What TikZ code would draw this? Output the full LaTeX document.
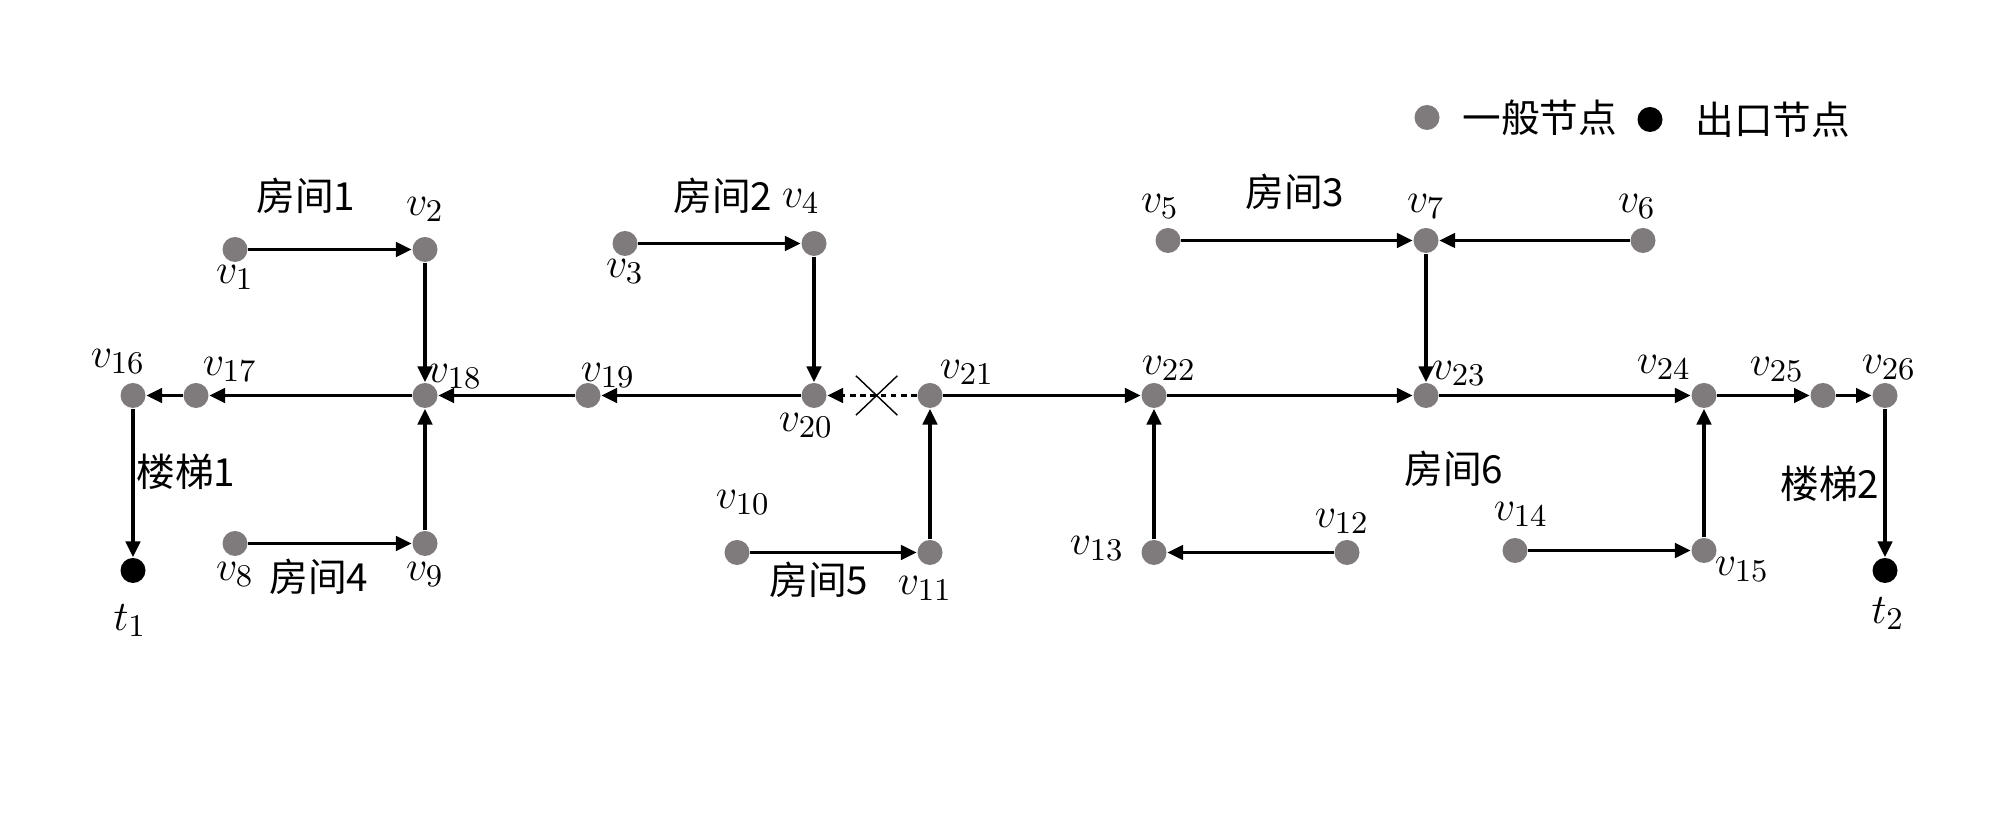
\documentclass[tikz,border=0pt]{standalone}
\usepackage{fontspec}
\usepackage{tikz}
\usetikzlibrary{positioning, arrows.meta, calc, shapes.misc}
\usepackage{xcolor}
\newfontfamily\cjk{Noto Sans CJK SC}
\definecolor{ptgray}{HTML}{7F7B7C}
\definecolor{ptblack}{HTML}{000000}

\begin{document}
\begin{tikzpicture}[font=\fontsize{11}{13}\selectfont,
    every label/.style={font=\fontsize{12.5}{15}\selectfont},
    pt/.style={circle, fill=ptgray, minimum size=0.25cm, inner sep=0pt},
    exit/.style={circle, fill=ptblack, minimum size=0.25cm, inner sep=0pt},
    link/.style={line width=1.1pt, -{Triangle[length=4.5pt, width=4pt]}},
    cut/.style={link, dash pattern=on 1.6pt off 1.3pt},
    room/.style={font=\cjk\fontsize{11}{13}\selectfont}]
    \useasboundingbox (0,0) rectangle (20,8.265);
    % upper rooms
    \node[pt, label={[shift={(0,-0.28)}]center:$v_1$}] (v1) at (2.35,5.77) {};
    \node[pt, label={[shift={(0,0.4)}]center:$v_2$}]   (v2) at (4.25,5.77) {};
    \node[pt, label={[shift={(0,-0.28)}]center:$v_3$}] (v3) at (6.25,5.83) {};
    \node[pt, label={[shift={(-0.13,0.42)}]center:$v_4$}] (v4) at (8.14,5.83) {};
    \node[pt, label={[shift={(-0.08,0.34)}]center:$v_5$}] (v5) at (11.68,5.86) {};
    \node[pt, label={[shift={(0,0.34)}]center:$v_7$}]  (v7) at (14.26,5.86) {};
    \node[pt, label={[shift={(-0.06,0.34)}]center:$v_6$}] (v6) at (16.43,5.86) {};
    % corridor
    \node[pt, label={[shift={(-0.15,0.34)}]center:$v_{16}$}] (v16) at (1.33,4.31) {};
    \node[pt, label={[shift={(0.34,0.26)}]center:$v_{17}$}]  (v17) at (1.96,4.31) {};
    \node[pt, label={[shift={(0.3,0.19)}]center:$v_{18}$}]   (v18) at (4.25,4.31) {};
    \node[pt, label={[shift={(0.2,0.2)}]center:$v_{19}$}]    (v19) at (5.88,4.31) {};
    \node[pt, label={[shift={(-0.08,-0.3)}]center:$v_{20}$}] (v20) at (8.14,4.31) {};
    \node[pt, label={[shift={(0.37,0.23)}]center:$v_{21}$}]  (v21) at (9.30,4.31) {};
    \node[pt, label={[shift={(0.15,0.27)}]center:$v_{22}$}]  (v22) at (11.54,4.31) {};
    \node[pt, label={[shift={(0.33,0.22)}]center:$v_{23}$}]  (v23) at (14.26,4.31) {};
    \node[pt, label={[shift={(-0.4,0.28)}]center:$v_{24}$}]  (v24) at (17.04,4.31) {};
    \node[pt, label={[shift={(-0.46,0.26)}]center:$v_{25}$}] (v25) at (18.23,4.31) {};
    \node[pt, label={[shift={(0.04,0.28)}]center:$v_{26}$}]  (v26) at (18.85,4.31) {};
    \node[exit, label={[shift={(-0.03,-0.5)}]center:$t_1$}]  (t1) at (1.33,2.56) {};
    \node[exit, label={[shift={(0.03,-0.43)}]center:$t_2$}]  (t2) at (18.85,2.56) {};
    % lower rooms
    \node[pt, label={[shift={(0,-0.31)}]center:$v_8$}]  (v8) at (2.35,2.83) {};
    \node[pt, label={[shift={(0,-0.31)}]center:$v_9$}]  (v9) at (4.25,2.83) {};
    \node[pt, label={[shift={(0.06,0.5)}]center:$v_{10}$}]   (v10) at (7.37,2.74) {};
    \node[pt, label={[shift={(-0.05,-0.36)}]center:$v_{11}$}] (v11) at (9.30,2.74) {};
    \node[pt, label={[shift={(-0.57,0.04)}]center:$v_{13}$}] (v13) at (11.54,2.74) {};
    \node[pt, label={[shift={(-0.05,0.31)}]center:$v_{12}$}] (v12) at (13.47,2.74) {};
    \node[pt, label={[shift={(0.06,0.36)}]center:$v_{14}$}]  (v14) at (15.15,2.76) {};
    \node[pt, label={[shift={(0.38,-0.19)}]center:$v_{15}$}] (v15) at (17.04,2.76) {};

    \draw[link] (v1) -- (v2);
    \draw[link] (v2) -- (v18);
    \draw[link] (v3) -- (v4);
    \draw[link] (v4) -- (v20);
    \draw[link] (v5) -- (v7);
    \draw[link] (v6) -- (v7);
    \draw[link] (v7) -- (v23);
    \draw[link] (v18) -- (v17);
    \draw[link] (v17) -- (v16);
    \draw[link] (v19) -- (v18);
    \draw[link] (v20) -- (v19);
    \draw[cut]  (v21) -- (v20);
    \draw[link] (v21) -- (v22);
    \draw[link] (v22) -- (v23);
    \draw[link] (v23) -- (v24);
    \draw[link] (v24) -- (v25);
    \draw[link] (v25) -- (v26);
    \draw[link] (v16) -- (t1);
    \draw[link] (v26) -- (t2);
    \draw[link] (v8) -- (v9);
    \draw[link] (v9) -- (v18);
    \draw[link] (v10) -- (v11);
    \draw[link] (v11) -- (v21);
    \draw[link] (v12) -- (v13);
    \draw[link] (v13) -- (v22);
    \draw[link] (v14) -- (v15);
    \draw[link] (v15) -- (v24);
    \node[draw, cross out, thin, minimum width=0.4cm, minimum height=0.38cm,
          inner sep=0pt] (blocked) at ($(v20)!0.54!(v21)$) {};

    \node[room] (r1) at (3.06,6.31) {房间1};
    \node[room] (r2) at (7.23,6.31) {房间2};
    \node[room] (r3) at (12.95,6.35) {房间3};
    \node[room] (r4) at (3.19,2.50) {房间4};
    \node[room] (r5) at (8.19,2.47) {房间5};
    \node[room] (r6) at (14.54,3.58) {房间6};
    \node[room] (s1) at (1.86,3.55) {楼梯1};
    \node[room] (s2) at (18.30,3.43) {楼梯2};

    % legend
    \node[pt] (keypt) at (14.27,7.09) {};
    \node[room, right=0.1cm of keypt] (keyptl) {一般节点};
    \node[exit] (keyexit) at (16.50,7.07) {};
    \node[room, right=0.2cm of keyexit] (keyexitl) {出口节点};
\end{tikzpicture}
\end{document}
